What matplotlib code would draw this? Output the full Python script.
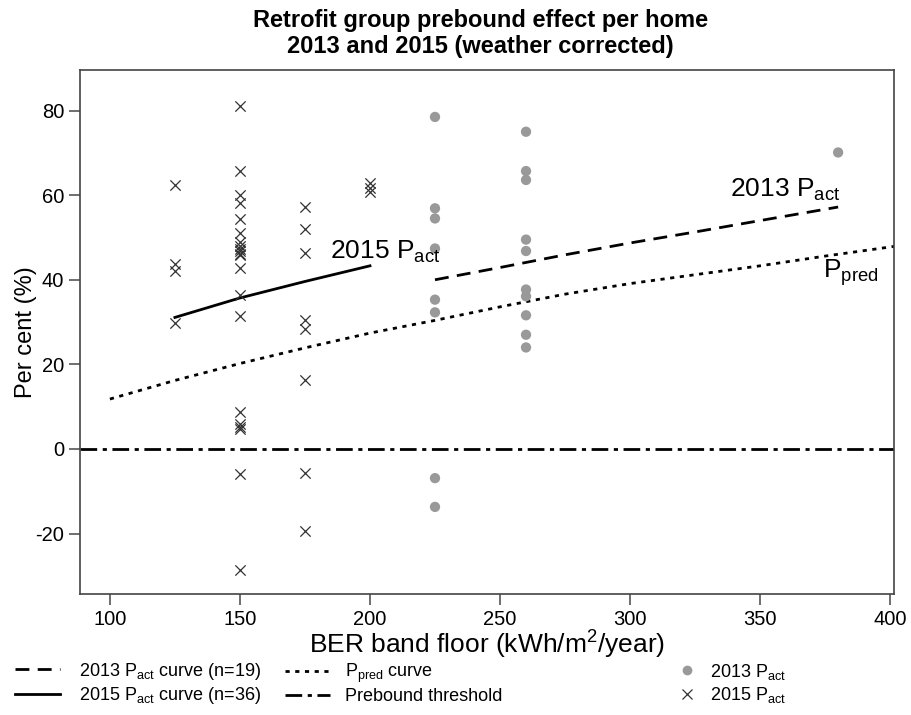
import matplotlib
matplotlib.use("Agg")
import matplotlib.pyplot as plt
from matplotlib.lines import Line2D

plt.rcParams['font.family'] = ['Liberation Sans', 'DejaVu Sans']
plt.rcParams['mathtext.fontset'] = 'custom'
plt.rcParams['mathtext.rm'] = 'Liberation Sans'
plt.rcParams['mathtext.it'] = 'Liberation Sans:italic'
plt.rcParams['mathtext.bf'] = 'Liberation Sans:bold'
plt.rcParams['axes.unicode_minus'] = False

# 2013 actual prebound per home (grey dots)
x_2013 = [225, 225, 225, 225, 225, 225, 225, 225,
          260, 260, 260, 260, 260, 260, 260, 260, 260, 260,
          380]
y_2013 = [78.5, 56.9, 54.5, 47.4, 35.3, 32.3, -6.9, -13.7,
          75.0, 65.7, 63.6, 49.5, 46.8, 37.7, 36.1, 31.6, 27.0, 24.0,
          70.1]

# 2015 actual prebound per home (crosses)
x_2015 = [125, 125, 125, 125,
          150, 150, 150, 150, 150, 150, 150, 150, 150, 150, 150, 150,
          150, 150, 150, 150, 150, 150, 150, 150, 150,
          175, 175, 175, 175, 175, 175, 175, 175,
          200, 200, 200]
y_2015 = [62.5, 43.8, 42.0, 29.8,
          81.0, 65.7, 60.0, 58.2, 54.4, 51.1, 49.0, 48.0, 47.3, 46.8, 46.2, 45.8,
          42.8, 36.3, 31.4, 8.8, 6.0, 5.3, 4.8, -6.0, -28.7,
          57.3, 52.1, 46.4, 30.6, 28.4, 16.2, -5.6, -19.4,
          63.0, 61.8, 60.8]

# fitted curves
curve13_x = [225, 250, 275, 300, 325, 350, 380]
curve13_y = [40.0, 42.9, 45.9, 48.7, 51.3, 54.0, 57.2]

curve15_x = [125, 150, 175, 200]
curve15_y = [31.1, 35.7, 39.6, 43.3]

pred_x = [100, 125, 150, 175, 200, 225, 250, 275, 300, 325, 350, 375, 404]
pred_y = [11.8, 16.2, 20.2, 23.9, 27.4, 30.4, 33.6, 36.6, 39.1, 41.2, 43.3, 45.6, 48.1]

DASHED = (5, 3)
DOTTED = (1.5, 2)
DASHDOT = (6, 2, 1.5, 2)

fig = plt.figure(figsize=(9.12, 7.15), dpi=100)
ax = fig.add_axes([0.0877, 0.1692, 0.8926, 0.7329])

ax.axhline(0, color='black', lw=2, dashes=DASHDOT)
ax.plot(pred_x, pred_y, color='black', lw=2, dashes=DOTTED)
ax.plot(curve13_x, curve13_y, color='black', lw=2, dashes=DASHED)
ax.plot(curve15_x, curve15_y, color='black', lw=2)

ax.scatter(x_2013, y_2013, s=55, color='#999999', edgecolors='none', zorder=3)
ax.scatter(x_2015, y_2015, s=55, marker='x', color='#333333', linewidths=0.9, zorder=3)

ax.text(184.5, 46.6, r'2015 P$_{\mathrm{act}}$', fontsize=19, va='center')
ax.text(338.5, 61.2, r'2013 P$_{\mathrm{act}}$', fontsize=19, va='center')
ax.text(374.2, 41.6, r'P$_{\mathrm{pred}}$', fontsize=19, va='center')

ax.set_xlim(88.5, 401.5)
ax.set_ylim(-34.3, 89.6)
ax.set_xticks([100, 150, 200, 250, 300, 350, 400])
ax.set_yticks([-20, 0, 20, 40, 60, 80])
ax.tick_params(direction='out', length=8, width=1.2, color='#555555', labelsize=14.5)
for s in ax.spines.values():
    s.set_color('#444444')
    s.set_linewidth(1.2)

ax.set_xlabel(r'BER band floor (kWh/m$^2$/year)', fontsize=19, labelpad=0)
ax.set_ylabel('Per cent (%)', fontsize=17, labelpad=-1)

fig.text(0.527, 0.972, 'Retrofit group prebound effect per home', fontsize=17,
         fontweight='bold', ha='center', va='center')
fig.text(0.527, 0.935, '2013 and 2015 (weather corrected)', fontsize=17,
         fontweight='bold', ha='center', va='center')

# legend in three separate columns, like the original
col1 = ([Line2D([], [], color='black', lw=2, dashes=DASHED),
         Line2D([], [], color='black', lw=2)],
        [r'2013 P$_{\mathrm{act}}$ curve (n=19)',
         r'2015 P$_{\mathrm{act}}$ curve (n=36)'])
col2 = ([Line2D([], [], color='black', lw=2, dashes=DOTTED),
         Line2D([], [], color='black', lw=2, dashes=DASHDOT)],
        [r'P$_{\mathrm{pred}}$ curve', 'Prebound threshold'])
col3 = ([Line2D([], [], color='#999999', marker='o', ls='none', markersize=7, markeredgewidth=0),
         Line2D([], [], color='#333333', marker='x', ls='none', markersize=7, markeredgewidth=0.9)],
        [r'2013 P$_{\mathrm{act}}$', r'2015 P$_{\mathrm{act}}$'])

for (h, l), x0, hl, pad in [(col1, 0.0164, 2.5, 1.05),
                            (col2, 0.3125, 2.5, 0.8),
                            (col3, 0.743, 1.0, 0.8)]:
    fig.legend(h, l, loc='center left', bbox_to_anchor=(x0, 0.044), frameon=False,
               fontsize=13, handlelength=hl, handletextpad=pad, labelspacing=0.2,
               borderpad=0, borderaxespad=0)

fig.savefig('out.png', dpi=100)
